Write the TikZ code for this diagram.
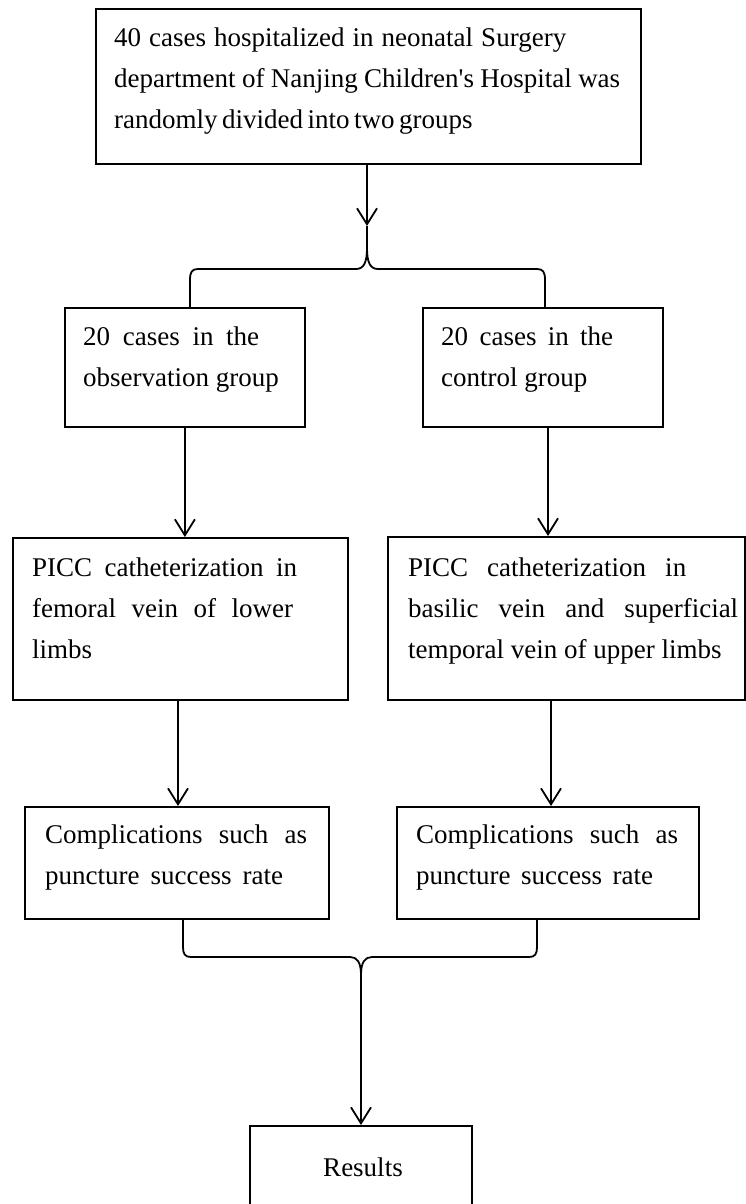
\documentclass[tikz,border=0pt]{standalone}
\usepackage{fontspec}
\setmainfont{Liberation Serif}
\usetikzlibrary{arrows.meta}
\newcommand\fitline[2]{\makebox[#1pt][s]{#2}}
\begin{document}
\begin{tikzpicture}[x=1pt,y=-1pt,
  box/.style={draw, line width=1.8pt, inner sep=0pt, anchor=north west},
  txt/.style={inner sep=0pt, anchor=base west, font=\fontsize{27}{41}\selectfont},
  link/.style={line width=1.8pt},
  arr/.style={line width=1.8pt, -{Straight Barb[length=16pt,width=20pt]}}]
\useasboundingbox (0,0) rectangle (746,1204);
\fill[white] (0,0) rectangle (746,1204);
% boxes
\node[box, minimum width=545pt, minimum height=155pt] (A) at (95,8) {};
\node[box, minimum width=240pt, minimum height=119pt] (B1) at (64,307) {};
\node[box, minimum width=240pt, minimum height=119pt] (B2) at (422,307) {};
\node[box, minimum width=335pt, minimum height=162pt] (C1) at (12,537) {};
\node[box, minimum width=357pt, minimum height=163pt] (C2) at (387,536) {};
\node[box, minimum width=304pt, minimum height=112pt] (D1) at (24,806) {};
\node[box, minimum width=302pt, minimum height=112pt] (D2) at (396,806) {};
\node[box, minimum width=222pt, minimum height=120pt] (R) at (249,1125) {};
% texts
\node[txt] (tA) at (114,47) {\parbox[t]{600pt}{\fitline{452}{40 cases hospitalized in neonatal Surgery}\\
  \fitline{506}{department of Nanjing Children\textquotesingle s Hospital was}\\
  \fitline{356}{randomly divided into two groups}}};
\node[txt] (tB1) at (83,345) {\parbox[t]{300pt}{\fitline{176}{20 cases in the}\\ observation group}};
\node[txt] (tB2) at (441,345) {\parbox[t]{300pt}{\fitline{172}{20 cases in the}\\ control group}};
\node[txt] (tC1) at (32,576) {\parbox[t]{330pt}{\fitline{265}{PICC catheterization in}\\ \fitline{261}{femoral vein of lower}\\ limbs}};
\node[txt] (tC2) at (408,576) {\parbox[t]{360pt}{\fitline{278}{PICC catheterization in}\\ \fitline{330}{basilic vein and superficial}\\ temporal vein of upper limbs}};
\node[txt] (tD1) at (45,843) {\parbox[t]{300pt}{\fitline{262}{Complications such as}\\ \fitline{238}{puncture success rate}}};
\node[txt] (tD2) at (416,843) {\parbox[t]{300pt}{\fitline{262}{Complications such as}\\ \fitline{237}{puncture success rate}}};
\node[txt, anchor=base] (tR) at (363,1176) {Results};
% helper coordinates
\coordinate (bt) at (367,226);
\coordinate (xa) at (190,0);
\coordinate (xb) at (545,0);
\coordinate (xc) at (548,0);
\coordinate (xd) at (178,0);
\coordinate (xe) at (551,0);
\coordinate (xf) at (183,0);
\coordinate (xg) at (537,0);
\coordinate (bb) at (361,1003);
% connectors
\draw[arr] (bt |- A.south) -- (bt);
\draw[link] (xa |- B1.north) -- (190,280) .. controls (190,272) and (192,269) .. (198,269) -- (356,269) .. controls (364,269) and (367,262) .. (367,248) -- (bt);
\draw[link] (xb |- B2.north) -- (545,280) .. controls (545,272) and (543,269) .. (537,269) -- (378,269) .. controls (370,269) and (367,262) .. (367,248) -- (bt);
\draw[arr] (B1.south) -- (B1.south |- C1.north);
\draw[arr] (xc |- B2.south) -- (xc |- C2.north);
\draw[arr] (xd |- C1.south) -- (xd |- D1.north);
\draw[arr] (xe |- C2.south) -- (xe |- D2.north);
\draw[link] (xf |- D1.south) -- (183,947) .. controls (183,954) and (185,957) .. (191,957) -- (350,957) .. controls (357,957) and (361,962) .. (361,975) -- (bb);
\draw[link] (xg |- D2.south) -- (537,947) .. controls (537,954) and (535,957) .. (529,957) -- (372,957) .. controls (365,957) and (361,962) .. (361,975) -- (bb);
\draw[arr] (bb) -- (bb |- R.north);
\end{tikzpicture}
\end{document}
